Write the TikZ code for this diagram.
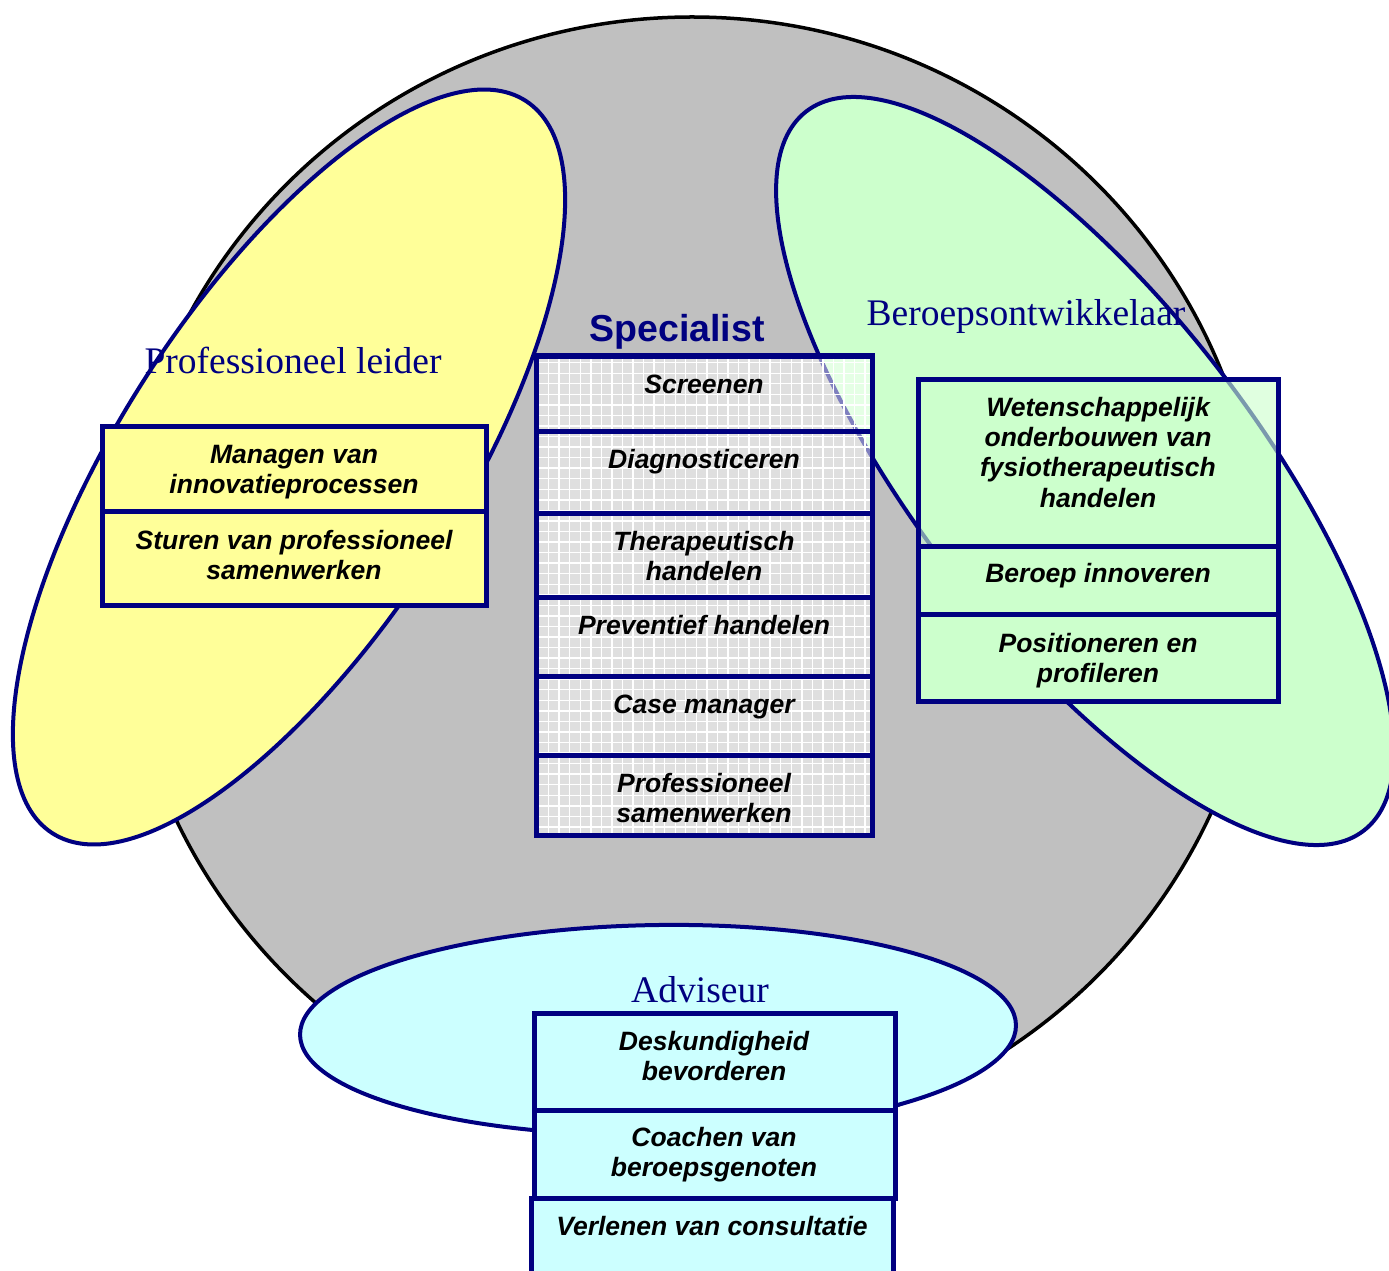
\documentclass[tikz,border=0pt]{standalone}
\usepackage{fontspec}
\setmainfont{Liberation Serif}
\setsansfont{Liberation Sans}
\usepackage{tikz}
\usetikzlibrary{patterns}
\definecolor{navy}{RGB}{0,0,128}
\definecolor{ringgrey}{RGB}{192,192,192}
\definecolor{leiderfill}{RGB}{255,255,153}
\definecolor{ontwfill}{RGB}{204,255,204}
\definecolor{advfill}{RGB}{204,255,255}
\tikzset{
	rol/.style={draw=navy, line width=0.4mm},
	taak/.style={draw=navy, line width=0.5mm},
	specfill/.style={preaction={fill=white, fill opacity=0.5}, preaction={pattern=grid, pattern color=white, fill opacity=0.45}},
	taaktekst/.style={anchor=north, inner sep=0pt, align=center, font=\fontsize{7.54}{8.54}\selectfont\sffamily\bfseries\itshape},
	rolnaam/.style={anchor=base, inner sep=0pt, text=navy, font=\fontsize{10.67}{12}\selectfont}
}

\begin{document}
\begin{tikzpicture}[x=0.01cm, y=-0.01cm]
	%%%%% START %%%%%
	\useasboundingbox (0, 0) rectangle (1389, 1270);

	\draw[fill=ringgrey, line width=0.35mm] (692, 580) ellipse [x radius=570, y radius=563];

	\draw[rol, fill=leiderfill, rotate around={57.1:(289, 467)}] (289, 467) ellipse [x radius=436, y radius=169];
	\draw[rol, fill=ontwfill, rotate around={127.8:(1085, 471)}] (1085, 471) ellipse [x radius=455, y radius=168];
	\draw[rol, fill=advfill, rotate around={0.8:(658, 1030)}] (658, 1030) ellipse [x radius=358, y radius=105];

	\node[rolnaam] (leider) at (293, 373) {Professioneel leider};
	\node[rolnaam] (ontwikkelaar) at (1026, 325) {Beroepsontwikkelaar};
	\node[rolnaam] (adviseur) at (700, 1002) {Adviseur};
	\node[rolnaam, font=\fontsize{10.67}{12}\selectfont\sffamily\bfseries] (specialist) at (677, 341) {Specialist};

	\draw[taak, fill=leiderfill] (102, 426) rectangle (486, 511);
	\draw[taak, fill=leiderfill] (102, 511) rectangle (486, 605);
	\node[taaktekst] (leider1) at (294, 445) {Managen van\\innovatieprocessen};
	\node[taaktekst] (leider2) at (294, 530) {Sturen van professioneel\\samenwerken};

	\foreach \boven/\onder/\tekst [count=\i] in {356/431/Screenen, 431/513/Diagnosticeren, 513/597/{Therapeutisch\\handelen}, 597/676/{Preventief handelen}, 676/755/{Case manager}, 755/835/{Professioneel\\samenwerken}}{
		\draw[taak, specfill] (536, \boven) rectangle (872, \onder);
		\node[taaktekst] (spec\i) at (704, \boven+18) {\tekst};
	}

	\draw[taak, fill=ontwfill, fill opacity=0.6] (918, 379) rectangle (1278, 546);
	\draw[taak, fill=ontwfill] (918, 546) rectangle (1278, 614);
	\draw[taak, fill=ontwfill] (918, 614) rectangle (1278, 701);
	\node[taaktekst] (ontw1) at (1098, 397) {Wetenschappelijk\\onderbouwen van\\fysiotherapeutisch\\handelen};
	\node[taaktekst] (ontw2) at (1098, 563) {Beroep innoveren};
	\node[taaktekst] (ontw3) at (1098, 633) {Positioneren en\\profileren};

	\draw[taak, fill=advfill] (534, 1013) rectangle (895, 1110);
	\draw[taak, fill=advfill] (534, 1110) rectangle (895, 1198);
	\draw[taak, fill=advfill] (531, 1198) rectangle (893, 1300);
	\node[taaktekst] (advies1) at (714, 1031) {Deskundigheid\\bevorderen};
	\node[taaktekst] (advies2) at (714, 1127) {Coachen van\\beroepsgenoten};
	\node[taaktekst] (advies3) at (712, 1216) {Verlenen van consultatie};

	%%%%% END %%%%%
\end{tikzpicture}
\end{document}
